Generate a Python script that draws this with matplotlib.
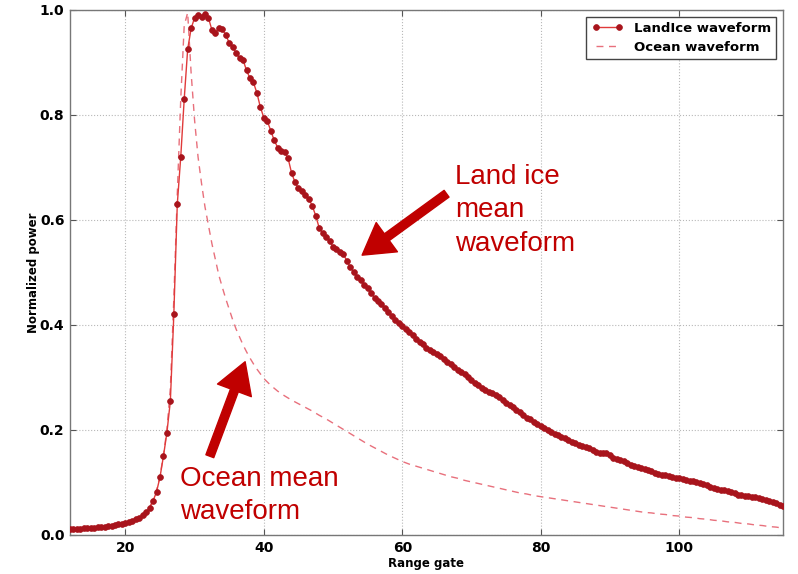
import numpy as np
import matplotlib
matplotlib.use("Agg")
from matplotlib import pyplot as plt

# range gates, half-gate spacing
gates = np.arange(12.0, 115.01, 0.5)

landice_power = [
    0.011, 0.011, 0.012, 0.012, 0.013, 0.013, 0.014, 0.014, 0.015, 0.016,   # 12.0-16.5
    0.016, 0.017, 0.018, 0.019, 0.020, 0.021, 0.023, 0.025, 0.027, 0.030,   # 17.0-21.5
    0.033, 0.038, 0.043, 0.052, 0.065, 0.082, 0.110, 0.150, 0.195, 0.255,   # 22.0-26.5
    0.420, 0.630, 0.720, 0.830, 0.925, 0.965, 0.985, 0.990, 0.987, 0.993,   # 27.0-31.5
    0.985, 0.962, 0.957, 0.966, 0.963, 0.953, 0.937, 0.930, 0.918, 0.908,   # 32.0-36.5
    0.905, 0.885, 0.870, 0.862, 0.842, 0.815, 0.795, 0.789, 0.770, 0.752,   # 37.0-41.5
    0.738, 0.731, 0.729, 0.718, 0.690, 0.672, 0.660, 0.655, 0.648, 0.640,   # 42.0-46.5
    0.627, 0.608, 0.585, 0.575, 0.568, 0.560, 0.549, 0.544, 0.539, 0.535,   # 47.0-51.5
    0.522, 0.510, 0.500, 0.492, 0.485, 0.477, 0.470, 0.460, 0.452, 0.445,   # 52.0-56.5
    0.440, 0.432, 0.425, 0.418, 0.410, 0.404, 0.398, 0.392, 0.386, 0.380,   # 57.0-61.5
    0.373, 0.367, 0.363, 0.357, 0.352, 0.348, 0.345, 0.340, 0.335, 0.330,   # 62.0-66.5
    0.326, 0.320, 0.315, 0.310, 0.306, 0.300, 0.296, 0.290, 0.285, 0.280,   # 67.0-71.5
    0.277, 0.273, 0.270, 0.267, 0.263, 0.258, 0.252, 0.248, 0.243, 0.238,   # 72.0-76.5
    0.234, 0.228, 0.223, 0.220, 0.215, 0.211, 0.208, 0.204, 0.200, 0.197,   # 77.0-81.5
    0.193, 0.190, 0.187, 0.184, 0.180, 0.177, 0.175, 0.172, 0.170, 0.168,   # 82.0-86.5
    0.165, 0.162, 0.158, 0.156, 0.156, 0.156, 0.152, 0.147, 0.144, 0.142,   # 87.0-91.5
    0.140, 0.137, 0.134, 0.132, 0.130, 0.128, 0.126, 0.123, 0.121, 0.118,   # 92.0-96.5
    0.116, 0.115, 0.114, 0.112, 0.110, 0.109, 0.108, 0.106, 0.105, 0.103,   # 97.0-101.5
    0.102, 0.100, 0.099, 0.097, 0.095, 0.092, 0.090, 0.088, 0.086, 0.085,   # 102.0-106.5
    0.083, 0.081, 0.079, 0.077, 0.076, 0.075, 0.074, 0.073, 0.072, 0.071,   # 107.0-111.5
    0.069, 0.067, 0.065, 0.062, 0.060, 0.057, 0.055,                        # 112.0-115.0
]

ocean_gates = np.concatenate([np.arange(12.0, 40.0, 0.5), np.arange(40.0, 115.01, 1.0)])

ocean_power = [
    0.010, 0.011, 0.011, 0.012, 0.012, 0.013, 0.013, 0.014, 0.015, 0.015,   # 12.0-16.5
    0.016, 0.017, 0.018, 0.019, 0.020, 0.021, 0.023, 0.025, 0.027, 0.030,   # 17.0-21.5
    0.033, 0.038, 0.044, 0.053, 0.066, 0.085, 0.112, 0.152, 0.200, 0.280,   # 22.0-26.5
    0.450, 0.650, 0.830, 0.970, 0.995, 0.880, 0.790, 0.720, 0.670, 0.625,   # 27.0-31.5
    0.590, 0.555, 0.525, 0.495, 0.472, 0.450, 0.430, 0.410, 0.392, 0.377,   # 32.0-36.5
    0.362, 0.349, 0.337, 0.326, 0.316, 0.307,                               # 37.0-39.5
    0.298, 0.285, 0.274, 0.265, 0.257, 0.250, 0.243, 0.236, 0.228, 0.221,   # 40-49
    0.213, 0.205, 0.197, 0.189, 0.181, 0.173, 0.166, 0.159, 0.152, 0.146,   # 50-59
    0.140, 0.135, 0.131, 0.127, 0.123, 0.119, 0.115, 0.111, 0.108, 0.104,   # 60-69
    0.101, 0.098, 0.095, 0.092, 0.089, 0.086, 0.083, 0.080, 0.078, 0.075,   # 70-79
    0.073, 0.071, 0.069, 0.067, 0.065, 0.063, 0.061, 0.059, 0.057, 0.055,   # 80-89
    0.053, 0.051, 0.049, 0.047, 0.045, 0.043, 0.042, 0.040, 0.039, 0.037,   # 90-99
    0.036, 0.034, 0.033, 0.031, 0.030, 0.028, 0.027, 0.025, 0.024, 0.022,   # 100-109
    0.021, 0.019, 0.018, 0.016, 0.015, 0.013,                               # 110-115
]

plt.rcParams["font.family"] = "DejaVu Sans"
plt.rcParams["font.weight"] = "bold"

fig = plt.figure(figsize=(7.98, 5.74), dpi=100)
ax = fig.add_axes([0.0877, 0.068, 0.8935, 0.9146])

ax.plot(ocean_gates, ocean_power, color="#e8707c", ls="--", lw=1.0,
        dashes=(5, 4), label="Ocean waveform", zorder=2)
ax.plot(gates, landice_power, color="#e03a3a", lw=1.0, marker="o", markersize=4.2,
        markerfacecolor="#a8141c", markeredgecolor="#a8141c", markeredgewidth=0.5,
        label="LandIce waveform", zorder=3)

ax.set_xlim(12, 115)
ax.set_ylim(0, 1.0)
ax.set_xticks([20, 40, 60, 80, 100])
ax.set_yticks([0.0, 0.2, 0.4, 0.6, 0.8, 1.0])
ax.yaxis.set_major_formatter(matplotlib.ticker.FormatStrFormatter("%.1f"))
ax.tick_params(direction="in", top=True, right=True, length=4, color="#555555",
               labelsize=10, pad=4)
for lab in ax.get_xticklabels() + ax.get_yticklabels():
    lab.set_fontweight("bold")
for s in ax.spines.values():
    s.set_color("#777777")
    s.set_linewidth(1.0)
ax.grid(True, color="#b8b8b8", ls=":", lw=0.8)
ax.set_axisbelow(True)

ax.set_xlabel("Range gate", fontsize=8.5, fontweight="bold", labelpad=2)
ax.set_ylabel("Normalized power", fontsize=8.5, fontweight="bold", labelpad=0)

# legend order: land ice first
h, l = ax.get_legend_handles_labels()
leg = ax.legend(h[::-1], l[::-1], loc="upper right", fontsize=9.5, frameon=True,
                fancybox=False, borderaxespad=0.5, handlelength=2.4, numpoints=2,
                borderpad=0.4, labelspacing=0.45, framealpha=1)
leg.get_frame().set_edgecolor("#444444")
for t in leg.get_texts():
    t.set_fontweight("bold")

# callouts
red = "#c00000"
ax.annotate("", xy=(54.2, 0.533), xytext=(66.4, 0.650),
            arrowprops=dict(width=6, headwidth=26, headlength=22, color=red, shrink=0))
ax.annotate("", xy=(37.3, 0.33), xytext=(32.2, 0.150),
            arrowprops=dict(width=6, headwidth=26, headlength=22, color=red, shrink=0))
ax.text(67.6, 0.707, "Land ice\nmean\nwaveform", color=red, fontsize=20, fontweight="normal",
        family="Liberation Sans", va="top", ha="left", linespacing=1.38)
ax.text(27.9, 0.132, "Ocean mean\nwaveform", color=red, fontsize=20, fontweight="normal",
        family="Liberation Sans", va="top", ha="left", linespacing=1.38)

fig.savefig("out.png", dpi=100)
